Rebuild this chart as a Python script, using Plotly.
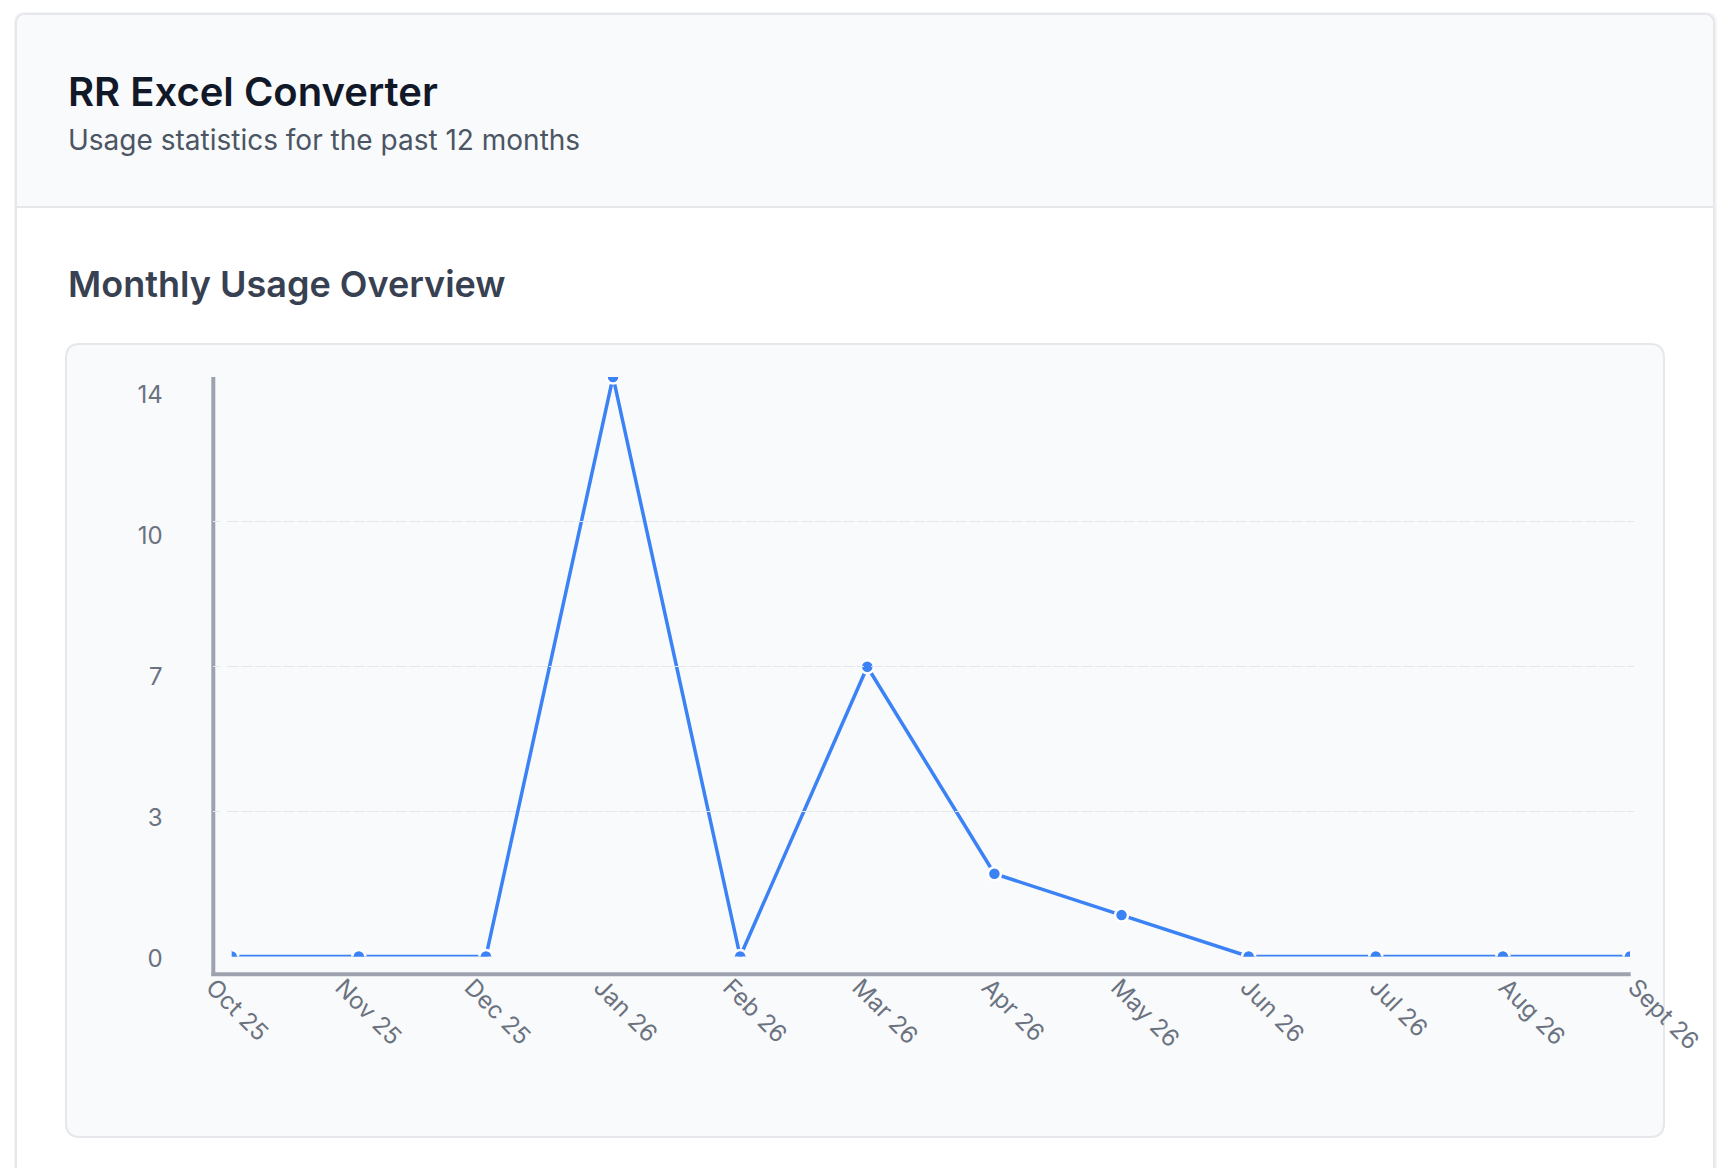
import plotly.graph_objects as go

W, H = 1718, 1168

months = ["Oct 25", "Nov 25", "Dec 25", "Jan 26", "Feb 26", "Mar 26",
          "Apr 26", "May 26", "Jun 26", "Jul 26", "Aug 26", "Sept 26"]
usage = [0, 0, 0, 14, 0, 7, 2, 1, 0, 0, 0, 0]

y_tickvals = [0, 3.5, 7, 10.5, 14]
y_ticktext = ["0", "3", "7", "10", "14"]

BLUE = "#3b82f6"
GRID = "#e5e7eb"
AXIS = "#9ca3af"
LABEL = "#6b7280"
FONT = "Inter"


def px(x):
    return x / W


def py(y):
    return 1 - y / H


def rounded_rect(x0, y0, x1, y1, rt, rb):
    """Path for a rectangle in pixel coords (top-left origin), rt/rb = top/bottom radius."""
    parts = [
        f"M {px(x0 + rt)},{py(y0)}",
        f"L {px(x1 - rt)},{py(y0)}",
        f"Q {px(x1)},{py(y0)} {px(x1)},{py(y0 + rt)}",
        f"L {px(x1)},{py(y1 - rb)}",
        f"Q {px(x1)},{py(y1)} {px(x1 - rb)},{py(y1)}",
        f"L {px(x0 + rb)},{py(y1)}",
        f"Q {px(x0)},{py(y1)} {px(x0)},{py(y1 - rb)}",
        f"L {px(x0)},{py(y0 + rt)}",
        f"Q {px(x0)},{py(y0)} {px(x0 + rt)},{py(y0)}",
        "Z",
    ]
    return " ".join(parts)


fig = go.Figure()

# usage line
fig.add_trace(
    go.Scatter(
        x=months,
        y=usage,
        mode="lines+markers",
        line=dict(color=BLUE, width=3.5),
        marker=dict(size=13, color=BLUE, line=dict(color="white", width=2.5)),
        hoverinfo="skip",
        showlegend=False,
    )
)

# invisible helpers so the label axes get drawn
fig.add_trace(
    go.Scatter(x=months, y=usage, xaxis="x", yaxis="y2", mode="lines",
               opacity=0, hoverinfo="skip", showlegend=False)
)
fig.add_trace(
    go.Scatter(x=months, y=usage, xaxis="x2", yaxis="y", mode="lines",
               opacity=0, hoverinfo="skip", showlegend=False)
)

shapes = [
    # soft shadow + outer card
    dict(type="path", path=rounded_rect(14, 12, 1717, 1222, 11, 11),
         fillcolor="#f3f4f6", line=dict(width=0)),
    dict(type="path", path=rounded_rect(16, 14, 1714, 1220, 10, 10),
         fillcolor="white", line=dict(color="#e5e7eb", width=2)),
    # header band
    dict(type="path", path=rounded_rect(17, 15, 1713, 206, 9, 0),
         fillcolor="#f9fafb", line=dict(width=0)),
    dict(type="line", x0=px(17), x1=px(1713), y0=py(207), y1=py(207),
         line=dict(color="#e5e7eb", width=2)),
    # chart panel
    dict(type="path", path=rounded_rect(66, 344, 1664, 1137, 14, 14),
         fillcolor="#f9fafb", line=dict(color="#e5e7eb", width=2)),
    # axis lines (offset from the plot area like the original)
    dict(type="line", x0=px(213.3), x1=px(213.3), y0=py(377), y1=py(976),
         line=dict(color=AXIS, width=4)),
    dict(type="line", x0=px(211.5), x1=px(1630.7), y0=py(974.3), y1=py(974.3),
         line=dict(color=AXIS, width=4)),
]
for s in shapes:
    s["xref"] = "paper"
    s["yref"] = "paper"
    s["layer"] = "below"

annotations = [
    dict(text="RR Excel Converter", x=px(66), y=py(91.7), xanchor="left",
         yanchor="middle", showarrow=False,
         font=dict(family=FONT, size=40, color="#111827", weight=600)),
    dict(text="Usage statistics for the past 12 months", x=px(66), y=py(140),
         xanchor="left", yanchor="middle", showarrow=False,
         font=dict(family=FONT, size=28, color="#4b5563")),
    dict(text="Monthly Usage Overview", x=px(66), y=py(284), xanchor="left",
         yanchor="middle", showarrow=False,
         font=dict(family=FONT, size=36, color="#374151", weight=600)),
]
for a in annotations:
    a["xref"] = "paper"
    a["yref"] = "paper"

common_axis = dict(showline=False, zeroline=False, ticks="", automargin=False)

fig.update_layout(
    template="none",
    width=W,
    height=H,
    margin=dict(l=0, r=0, t=0, b=0, autoexpand=False),
    paper_bgcolor="white",
    plot_bgcolor="rgba(0,0,0,0)",
    showlegend=False,
    hovermode=False,
    font=dict(family=FONT, color=LABEL, size=24),
    shapes=shapes,
    annotations=annotations,
    xaxis=dict(
        domain=[px(231.7), px(1630)],
        type="category",
        categoryorder="array",
        categoryarray=months,
        range=[0, 11],
        showgrid=False,
        showticklabels=False,
        anchor="y",
        **common_axis,
    ),
    yaxis=dict(
        domain=[py(956.5), py(377)],
        range=[0, 14],
        tickvals=y_tickvals,
        showticklabels=False,
        showgrid=True,
        gridcolor=GRID,
        gridwidth=1.2,
        griddash="7px,7px",
        anchor="x",
        **common_axis,
    ),
    # label-only axes: the original spaces its labels slightly wider than its marks
    xaxis2=dict(
        domain=[px(213), px(1635)],
        type="category",
        categoryorder="array",
        categoryarray=months,
        range=[0, 11],
        tickvals=months,
        tickangle=45,
        tickfont=dict(family=FONT, size=24, color=LABEL),
        ticklabelstandoff=11,
        showgrid=False,
        anchor="y",
        **common_axis,
    ),
    yaxis2=dict(
        domain=[py(958.7), py(394.5)],
        range=[0, 14],
        tickvals=y_tickvals,
        ticktext=y_ticktext,
        tickfont=dict(family=FONT, size=24, color=LABEL),
        ticklabelstandoff=68,
        showgrid=False,
        anchor="x",
        **common_axis,
    ),
)

fig.write_html(
    "out.html",
    config={"displayModeBar": False},
    post_script="document.body.style.margin='0';document.body.style.overflow='hidden';",
)
